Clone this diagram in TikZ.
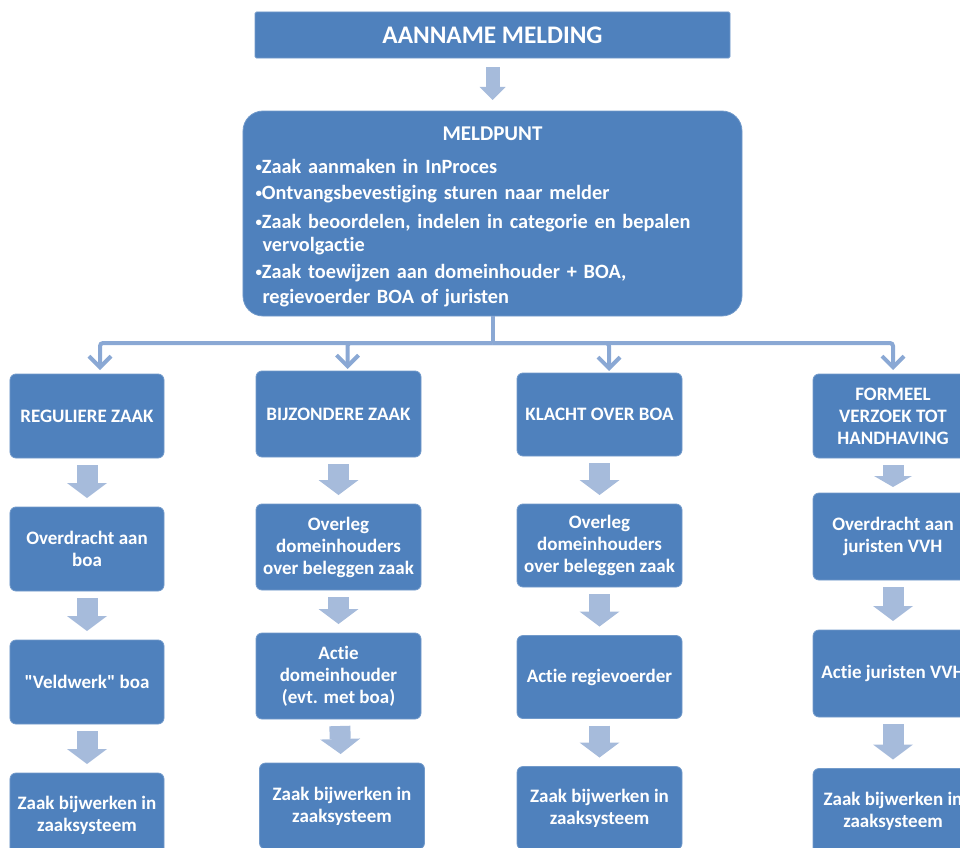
\documentclass[tikz,border=0pt]{standalone}
\usepackage{fontspec}
\setmainfont{Carlito}[Ligatures={TeXOff,CommonOff}]
\usetikzlibrary{arrows.meta,calc}
\definecolor{boxblue}{RGB}{79,129,189}
\definecolor{flowarrow}{RGB}{166,187,219}
\definecolor{busline}{RGB}{138,168,212}
\newcommand\smallbullet{{\fontsize{13bp}{13bp}\selectfont\raisebox{1.5bp}{\textbullet}}}
\begin{document}
\begin{tikzpicture}[x=1bp,y=-1bp,
  box/.style={fill=boxblue, draw=boxblue!80!white, line width=0.8bp,
    rounded corners=6bp, text=white, align=center, inner sep=0pt, outer sep=0pt,
    font=\bfseries\fontsize{19bp}{22bp}\selectfont},
  size/.style 2 args={minimum width=#1bp, minimum height=#2bp},
  blockarrow/.style={draw=flowarrow, line width=21bp,
    -{Triangle[width=40bp,length=15bp,line width=0pt]},
    shorten <=7bp, shorten >=9bp},
  bus/.style={draw=busline, line width=4bp, rounded corners=3bp},
  bustip/.style={bus, -{Straight Barb[width=22bp,length=11bp]}}
]
\useasboundingbox (0,0) rectangle (960,848);
\clip (0,0) rectangle (960,848);

% top of the flow
\node[box, size={475}{46}, rounded corners=1.5bp,
  font=\bfseries\fontsize{25.3bp}{28bp}\selectfont] (aanname) at (492.5,35) {AANNAME MELDING};

\node[box, size={499}{205}, rounded corners=20bp, text width=474bp, align=left,
  font=\bfseries\fontsize{20.3bp}{24bp}\selectfont] (meldpunt) at (492.5,213.5)
  {\rule{0pt}{20bp}\makebox[\linewidth][c]{\fontsize{21bp}{24bp}\selectfont MELDPUNT}\\[9bp]
   \smallbullet Zaak aanmaken in InProces\\[2bp]
   \smallbullet Ontvangsbevestiging sturen naar melder\\[5bp]
   \smallbullet Zaak beoordelen, indelen in categorie en bepalen\\[-1bp]
   \hspace*{7bp}vervolgactie\\[3bp]
   \smallbullet Zaak toewijzen aan domeinhouder + BOA,\\[1bp]
   \hspace*{7bp}regievoerder BOA of juristen};

\draw[draw=flowarrow, line width=14bp,
  -{Triangle[width=26bp,length=13bp,line width=0pt]},
  shorten <=9bp, shorten >=11bp] (aanname) -- (meldpunt);

% column 1: reguliere zaak
\node[box, size={154}{84}] (reg1) at (87,416) {REGULIERE ZAAK};
\node[box, size={154}{84}] (reg2) at (87,549) {Overdracht aan\\boa};
\node[box, size={154}{84}] (reg3) at (87,682) {"Veldwerk" boa};
\node[box, size={154}{84}] (reg4) at (87,815) {Zaak bijwerken in\\zaaksysteem};

% column 2: bijzondere zaak
\node[box, size={165}{86}] (bij1) at (338.5,414) {BIJZONDERE ZAAK};
\node[box, size={165}{86}] (bij2) at (338.5,547) {Overleg\\domeinhouders\\over beleggen zaak};
\node[box, size={165}{86}] (bij3) at (338.5,676) {Actie\\domeinhouder\\(evt. met boa)};
\node[box, size={165}{86}] (bij4) at (342,806) {Zaak bijwerken in\\zaaksysteem};

% column 3: klacht over boa
\node[box, size={165}{83}] (kla1) at (599.5,414.5) {KLACHT OVER BOA};
\node[box, size={165}{83}] (kla2) at (599.5,545.5) {Overleg\\domeinhouders\\over beleggen zaak};
\node[box, size={165}{83}] (kla3) at (599.5,677) {Actie regievoerder};
\node[box, size={165}{83}] (kla4) at (599.5,808) {Zaak bijwerken in\\zaaksysteem};

% column 4: formeel verzoek tot handhaving
\node[box, size={160}{84}] (for1) at (893,416) {FORMEEL\\VERZOEK TOT\\HANDHAVING};
\node[box, size={160}{87}] (for2) at (893,536.5) {Overdracht aan\\juristen VVH};
\node[box, size={160}{87}] (for3) at (893,673.5) {Actie juristen VVH};
\node[box, size={160}{85}] (for4) at (893,811) {Zaak bijwerken in\\zaaksysteem};

% distribution from the meldpunt
\coordinate (split) at (492.5,343);
\draw[bus] (meldpunt.south) -- (split);
\draw[bustip] (split) -| ([xshift=13bp,yshift=4bp]reg1.north);
\draw[bustip] (split) -| ([xshift=9bp,yshift=2bp]bij1.north);
\draw[bustip] (split) -| ([xshift=9.5bp,yshift=2bp]kla1.north);
\draw[bustip] (split) -| ([yshift=4bp]for1.north);

% steps within each column
\foreach \a/\b in {reg1/reg2,reg2/reg3,reg3/reg4,
                   bij1/bij2,bij2/bij3,bij3/bij4,
                   kla1/kla2,kla2/kla3,kla3/kla4,
                   for2/for3,for3/for4}
  \draw[blockarrow] (\a) -- (\b);
\draw[blockarrow, -{Triangle[width=38bp,length=11bp,line width=0pt]},
  shorten <=7bp, shorten >=6bp] (for1) -- (for2);
\end{tikzpicture}
\end{document}
